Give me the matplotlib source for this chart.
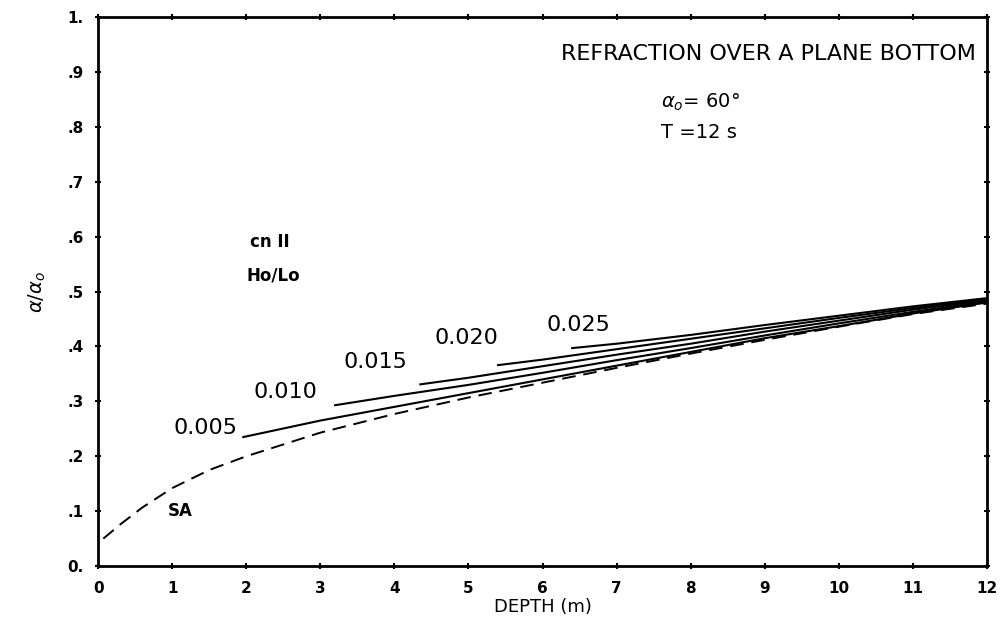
import numpy as np
import matplotlib.pyplot as plt

# SA (dashed) curve
sa_x = [0.07, 0.3, 0.6, 1.0, 1.5, 2.0, 3.0, 4.0, 5.0, 6.0, 7.0, 8.0, 9.0, 10.0, 11.0, 12.0]
sa_y = [0.05, 0.076, 0.107, 0.142, 0.175, 0.2, 0.243, 0.277, 0.307, 0.334, 0.361, 0.387, 0.412, 0.436, 0.459, 0.478]

# cnoidal curves for each Ho/Lo
steep = ["0.005", "0.010", "0.015", "0.020", "0.025"]
cn_x = [
    [1.96, 3, 4, 5, 6, 7, 8, 9, 10, 11, 12],
    [3.2, 4, 5, 6, 7, 8, 9, 10, 11, 12],
    [4.35, 5, 6, 7, 8, 9, 10, 11, 12],
    [5.4, 6, 7, 8, 9, 10, 11, 12],
    [6.4, 7, 8, 9, 10, 11, 12],
]
cn_y = [
    [0.235, 0.265, 0.29, 0.315, 0.34, 0.365, 0.39, 0.415, 0.437, 0.46, 0.48],
    [0.293, 0.31, 0.33, 0.352, 0.375, 0.397, 0.42, 0.442, 0.463, 0.482],
    [0.331, 0.343, 0.364, 0.385, 0.405, 0.427, 0.447, 0.467, 0.484],
    [0.366, 0.376, 0.395, 0.414, 0.433, 0.452, 0.47, 0.486],
    [0.397, 0.405, 0.421, 0.439, 0.456, 0.473, 0.488],
]
lab_x = [1.45, 2.53, 3.74, 4.97, 6.49]
lab_y = [0.251, 0.317, 0.372, 0.415, 0.439]

xticks = list(range(13))
yticks = [0, .1, .2, .3, .4, .5, .6, .7, .8, .9, 1.0]
ytick_labels = ["0.", ".1", ".2", ".3", ".4", ".5", ".6", ".7", ".8", ".9", "1."]

fig = plt.figure(figsize=(10.01, 6.29), dpi=100)
ax = fig.add_axes([0.098, 0.1, 0.888, 0.873])

ax.plot(sa_x, sa_y, color="black", lw=1.4, dashes=(7, 4))
for xs, ys in zip(cn_x, cn_y):
    ax.plot(xs, ys, color="black", lw=1.5)
for s, lx, ly in zip(steep, lab_x, lab_y):
    ax.text(lx, ly, s, fontsize=16, ha="center", va="center")

ax.text(1.11, 0.10, "SA", fontsize=12, fontweight="bold", ha="center", va="center")
ax.text(2.05, 0.59, "cn II", fontsize=12, fontweight="bold", va="center")
ax.text(2.0, 0.53, "Ho/Lo", fontsize=12, fontweight="bold", va="center")

ax.text(11.85, 0.933, "REFRACTION OVER A PLANE BOTTOM", fontsize=16,
        ha="right", va="center")
ax.text(7.6, 0.845, r"$\alpha_o$= 60°", fontsize=14, va="center")
ax.text(7.6, 0.79, "T =12 s", fontsize=14, va="center")

ax.set_xlim(0, 12)
ax.set_ylim(0, 1)
ax.set_xticks(xticks)
ax.set_xticklabels([str(t) for t in xticks], fontsize=11, fontweight="bold")
ax.set_yticks(yticks)
ax.set_yticklabels(ytick_labels, fontsize=11, fontweight="bold")
ax.tick_params(direction="inout", length=5, width=1.5, top=True, right=True, pad=8)
for sp in ax.spines.values():
    sp.set_linewidth(2)

ax.set_xlabel("DEPTH (m)", fontsize=13, labelpad=2)
ax.set_ylabel(r"$\alpha/\alpha_o$", fontsize=14, labelpad=14)

fig.savefig("out.png", dpi=100)
